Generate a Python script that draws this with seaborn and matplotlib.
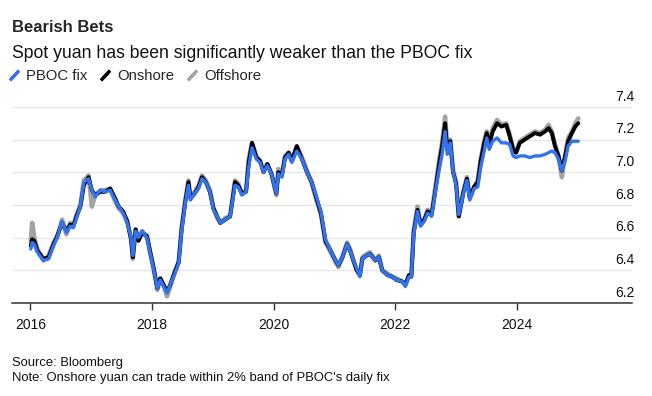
import matplotlib
matplotlib.use("Agg")
import matplotlib.pyplot as plt
import matplotlib.transforms as mtransforms
from matplotlib.lines import Line2D
import pandas as pd
import seaborn as sns

# 시리즈 데이터
dates = [
    "2016-01-04", "2016-01-12", "2016-01-25", "2016-02-12", "2016-03-20", "2016-04-20",
    "2016-05-20", "2016-06-10", "2016-07-10", "2016-08-05", "2016-08-28", "2016-09-15",
    "2016-10-08", "2016-10-28", "2016-11-18", "2016-12-16", "2017-01-05", "2017-01-25",
    "2017-02-25", "2017-03-25", "2017-04-25", "2017-05-25", "2017-06-15", "2017-07-12",
    "2017-08-05", "2017-08-28", "2017-09-08", "2017-09-25", "2017-10-12", "2017-11-03",
    "2017-12-02", "2017-12-20", "2018-01-12", "2018-02-02", "2018-02-20", "2018-03-12",
    "2018-04-01", "2018-04-20", "2018-05-18", "2018-06-10", "2018-06-28", "2018-07-20",
    "2018-08-08", "2018-08-20", "2018-09-15", "2018-10-08", "2018-10-28", "2018-11-20",
    "2018-12-15", "2019-01-05", "2019-01-28", "2019-02-15", "2019-03-18", "2019-04-15",
    "2019-05-15", "2019-06-03", "2019-06-25", "2019-07-20", "2019-08-05", "2019-08-25",
    "2019-09-20", "2019-10-12", "2019-11-02", "2019-11-25", "2019-12-20", "2020-01-18",
    "2020-01-30", "2020-02-20", "2020-03-10", "2020-04-01", "2020-04-20", "2020-05-20",
    "2020-06-20", "2020-07-20", "2020-08-18", "2020-09-15", "2020-10-12", "2020-11-08",
    "2020-12-05", "2021-01-08", "2021-01-25", "2021-02-18", "2021-03-18", "2021-04-05",
    "2021-04-25", "2021-05-15", "2021-06-03", "2021-06-18", "2021-07-15", "2021-08-02",
    "2021-09-05", "2021-09-25", "2021-10-15", "2021-11-15", "2021-12-15", "2022-01-10",
    "2022-02-15", "2022-03-03", "2022-03-25", "2022-04-08", "2022-04-22", "2022-05-15",
    "2022-06-03", "2022-06-25", "2022-07-15", "2022-08-08", "2022-09-01", "2022-09-25",
    "2022-10-10", "2022-10-28", "2022-11-10", "2022-11-28", "2022-12-15", "2023-01-02",
    "2023-01-18", "2023-02-15", "2023-03-08", "2023-03-25", "2023-04-20", "2023-05-12",
    "2023-05-30", "2023-06-20", "2023-07-05", "2023-07-20", "2023-08-10", "2023-09-05",
    "2023-10-01", "2023-10-30", "2023-11-20", "2023-12-10", "2023-12-28", "2024-01-20",
    "2024-02-18", "2024-03-20", "2024-04-20", "2024-05-20", "2024-06-20", "2024-07-10",
    "2024-07-30", "2024-08-18", "2024-09-08", "2024-09-28", "2024-10-18", "2024-11-05",
    "2024-11-28", "2024-12-18", "2025-01-05",
]

pboc_fix = [
    6.53, 6.57, 6.56, 6.51, 6.46, 6.47, 6.55, 6.60, 6.70, 6.63, 6.67, 6.66,
    6.73, 6.79, 6.94, 6.96, 6.89, 6.85, 6.89, 6.88, 6.89, 6.83, 6.79, 6.75,
    6.69, 6.60, 6.49, 6.64, 6.60, 6.64, 6.60, 6.51, 6.40, 6.29, 6.34, 6.30,
    6.26, 6.31, 6.38, 6.44, 6.64, 6.81, 6.92, 6.83, 6.87, 6.90, 6.96, 6.94,
    6.88, 6.77, 6.73, 6.69, 6.71, 6.73, 6.92, 6.91, 6.86, 6.88, 7.03, 7.15,
    7.08, 7.06, 7.00, 7.04, 6.99, 6.87, 6.99, 6.97, 7.08, 7.11, 7.06, 7.13,
    7.08, 7.00, 6.94, 6.85, 6.76, 6.59, 6.53, 6.46, 6.43, 6.48, 6.56, 6.52,
    6.46, 6.41, 6.36, 6.47, 6.49, 6.50, 6.46, 6.48, 6.40, 6.37, 6.36, 6.34,
    6.33, 6.30, 6.36, 6.36, 6.62, 6.76, 6.67, 6.70, 6.75, 6.73, 6.89, 7.03,
    7.11, 7.25, 7.11, 7.18, 7.00, 6.92, 6.74, 6.87, 6.95, 6.83, 6.90, 6.91,
    7.03, 7.13, 7.21, 7.14, 7.19, 7.21, 7.18, 7.18, 7.17, 7.10, 7.09, 7.10,
    7.10, 7.09, 7.10, 7.10, 7.11, 7.12, 7.13, 7.12, 7.08, 7.01, 7.07, 7.16,
    7.19, 7.19, 7.19,
]

onshore = [
    6.55, 6.59, 6.58, 6.52, 6.47, 6.48, 6.56, 6.61, 6.69, 6.64, 6.68, 6.67,
    6.74, 6.79, 6.92, 6.97, 6.89, 6.86, 6.88, 6.88, 6.90, 6.84, 6.79, 6.76,
    6.70, 6.59, 6.48, 6.65, 6.58, 6.63, 6.61, 6.52, 6.41, 6.29, 6.35, 6.31,
    6.27, 6.31, 6.39, 6.45, 6.65, 6.82, 6.94, 6.84, 6.87, 6.91, 6.97, 6.94,
    6.88, 6.78, 6.73, 6.69, 6.71, 6.73, 6.94, 6.92, 6.87, 6.88, 7.06, 7.18,
    7.09, 7.07, 7.00, 7.05, 6.99, 6.87, 7.00, 6.98, 7.09, 7.12, 7.07, 7.16,
    7.08, 7.00, 6.94, 6.84, 6.75, 6.58, 6.53, 6.46, 6.43, 6.48, 6.56, 6.52,
    6.46, 6.40, 6.37, 6.47, 6.49, 6.50, 6.46, 6.48, 6.40, 6.37, 6.36, 6.34,
    6.33, 6.31, 6.37, 6.36, 6.63, 6.77, 6.68, 6.71, 6.76, 6.74, 6.90, 7.07,
    7.16, 7.30, 7.14, 7.19, 7.00, 6.93, 6.73, 6.88, 6.96, 6.84, 6.91, 6.94,
    7.07, 7.18, 7.24, 7.17, 7.25, 7.30, 7.28, 7.29, 7.22, 7.14, 7.12, 7.18,
    7.20, 7.22, 7.24, 7.23, 7.25, 7.27, 7.24, 7.16, 7.10, 7.01, 7.10, 7.19,
    7.24, 7.28, 7.30,
]

offshore = [
    6.58, 6.69, 6.60, 6.53, 6.46, 6.49, 6.57, 6.60, 6.71, 6.62, 6.69, 6.67,
    6.75, 6.80, 6.95, 6.98, 6.79, 6.86, 6.89, 6.89, 6.90, 6.82, 6.78, 6.75,
    6.70, 6.60, 6.47, 6.65, 6.59, 6.64, 6.60, 6.51, 6.40, 6.28, 6.35, 6.31,
    6.24, 6.30, 6.39, 6.45, 6.66, 6.83, 6.95, 6.85, 6.88, 6.92, 6.98, 6.95,
    6.89, 6.78, 6.72, 6.69, 6.72, 6.73, 6.95, 6.93, 6.87, 6.89, 7.08, 7.18,
    7.10, 7.07, 7.01, 7.05, 6.99, 6.86, 7.02, 6.98, 7.10, 7.12, 7.07, 7.16,
    7.09, 7.01, 6.93, 6.83, 6.74, 6.57, 6.52, 6.45, 6.42, 6.48, 6.57, 6.53,
    6.46, 6.40, 6.37, 6.48, 6.50, 6.51, 6.46, 6.49, 6.40, 6.38, 6.36, 6.35,
    6.33, 6.31, 6.37, 6.37, 6.64, 6.79, 6.68, 6.71, 6.77, 6.75, 6.92, 7.09,
    7.18, 7.34, 7.16, 7.20, 7.01, 6.94, 6.73, 6.88, 6.97, 6.85, 6.91, 6.95,
    7.08, 7.19, 7.25, 7.18, 7.27, 7.32, 7.29, 7.30, 7.23, 7.15, 7.12, 7.19,
    7.21, 7.23, 7.25, 7.24, 7.26, 7.29, 7.25, 7.17, 7.10, 6.97, 7.10, 7.21,
    7.25, 7.30, 7.33,
]

y_ticks = [6.2, 6.4, 6.6, 6.8, 7.0, 7.2, 7.4]
y_labels = ["6.2", "6.4", "6.6", "6.8", "7.0", "7.2", "7.4"]
year_ticks = ["2016-01-01", "2018-01-01", "2020-01-01", "2022-01-01", "2024-01-01"]
year_labels = ["2016", "2018", "2020", "2022", "2024"]

BLUE = "#3473ef"
GRAY = "#a3a3a3"
BLACK = "#000000"

df = pd.DataFrame({
    "date": pd.to_datetime(dates),
    "PBOC fix": pboc_fix,
    "Onshore": onshore,
    "Offshore": offshore,
})

sns.set_theme(style="white")
plt.rcParams["font.family"] = ["Liberation Sans", "DejaVu Sans"]

fig = plt.figure(figsize=(6.52, 3.96), dpi=100)
ax = fig.add_axes([0.0184, 0.235, 0.951, 0.495])

# 회색 -> 검정 -> 파랑 순서로 겹쳐 그리기
sns.lineplot(data=df, x="date", y="Offshore", color=GRAY, lw=3.3, ax=ax)
sns.lineplot(data=df, x="date", y="Onshore", color=BLACK, lw=2.8, ax=ax)
sns.lineplot(data=df, x="date", y="PBOC fix", color=BLUE, lw=2.4, ax=ax)

ax.set_xlim(pd.Timestamp("2015-09-13"), pd.Timestamp("2025-11-24"))
ax.set_ylim(6.2, 7.4)
ax.set_xlabel("")
ax.set_ylabel("")

ax.set_xticks(pd.to_datetime(year_ticks))
ax.set_xticklabels(year_labels)
ax.set_yticks(y_ticks)
ax.set_yticklabels(y_labels)

ax.yaxis.tick_right()
ax.tick_params(axis="y", length=0, pad=2, labelsize=10, labelcolor="#111111")
ax.tick_params(axis="x", direction="out", length=5, width=1, color="#333333",
               labelsize=10, labelcolor="#111111", pad=6, bottom=True)
offset = mtransforms.ScaledTranslation(0, 8.5 / 72, fig.dpi_scale_trans)
for lab in ax.get_yticklabels():
    lab.set_horizontalalignment("right")
    lab.set_transform(lab.get_transform() + offset)

ax.grid(axis="y", color="#e6e6e6", lw=1)
ax.grid(axis="x", visible=False)
for side in ["left", "right", "top"]:
    ax.spines[side].set_visible(False)
ax.spines["bottom"].set_color("#333333")
ax.spines["bottom"].set_linewidth(1.1)

# 제목 / 부제목
fig.text(0.018, 0.919, "Bearish Bets", fontsize=12, fontweight="bold", va="baseline")
fig.text(0.018, 0.853, "Spot yuan has been significantly weaker than the PBOC fix",
         fontsize=12.7, va="baseline", color="#111111")

# 범례 (사선 마커)
handles = [
    Line2D([], [], color=c, marker=(2, 2, -42), linestyle="None",
           markersize=9.5, markeredgewidth=2.2)
    for c in [BLUE, BLACK, GRAY]
]
fig.legend(handles, ["PBOC fix", "Onshore", "Offshore"], loc="center left",
           bbox_to_anchor=(0.012, 0.807), ncol=3, frameon=False, fontsize=10.7,
           handlelength=0.8, handletextpad=0.45, columnspacing=0.75, borderaxespad=0,
           borderpad=0)

# 출처 / 노트
fig.text(0.018, 0.076, "Source: Bloomberg", fontsize=9.4, va="baseline", color="#111111")
fig.text(0.018, 0.038, "Note: Onshore yuan can trade within 2% band of PBOC's daily fix",
         fontsize=9.4, va="baseline", color="#111111")

fig.savefig("out.png", dpi=100)
